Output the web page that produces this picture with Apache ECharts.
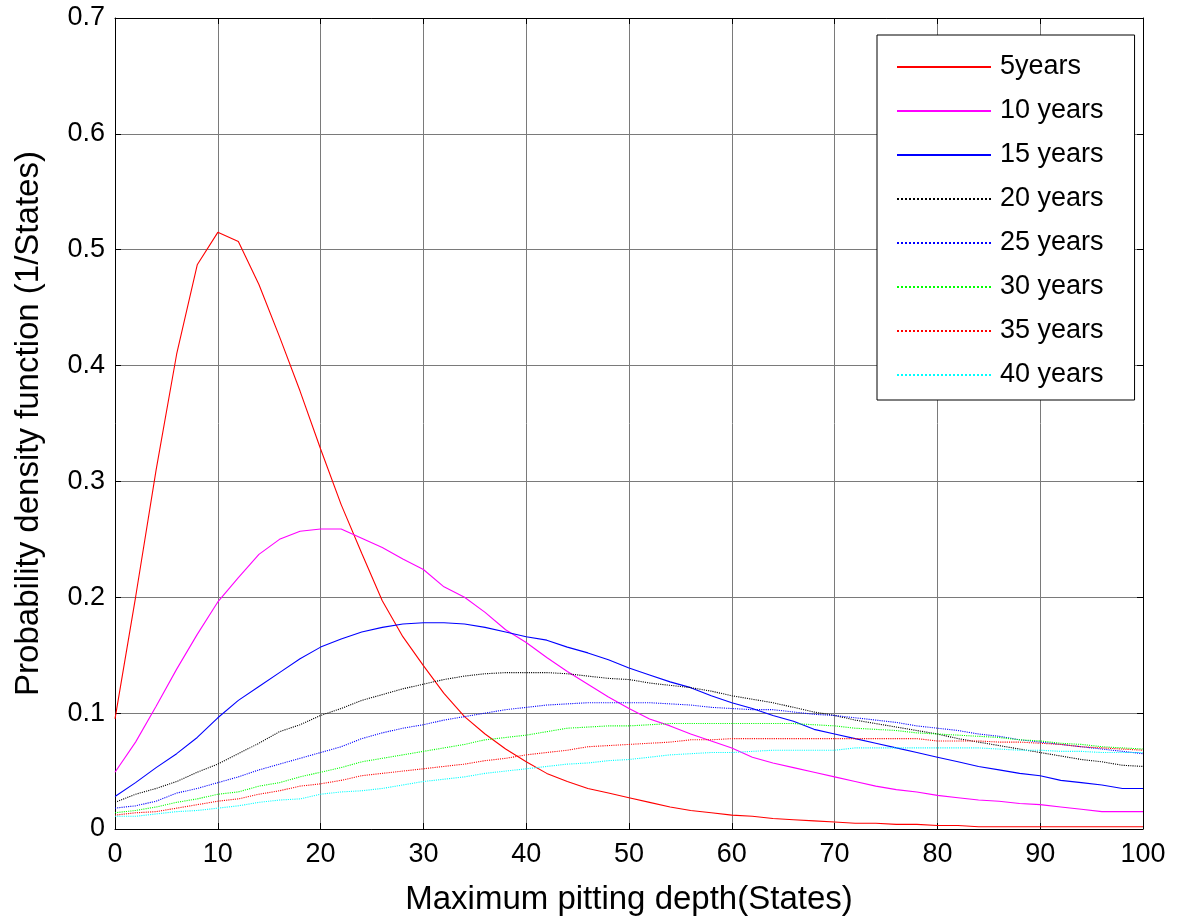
<!DOCTYPE html>
<html>
<head>
<meta charset="utf-8">
<script src="https://cdn.jsdelivr.net/npm/echarts@6/dist/echarts.min.js"></script>
<style>
html,body{margin:0;padding:0;background:#fff;}
#chart{width:1179px;height:922px;}
</style>
</head>
<body>
<div id="chart"></div>
<script>
const depth = [0,2,4,6,8,10,12,14,16,18,20,22,24,26,28,30,32,34,36,38,40,42,44,46,48,50,52,54,56,58,60,62,64,66,68,70,72,74,76,78,80,82,84,86,88,90,92,94,96,98,100];

const y5  = [0.095,0.200,0.310,0.410,0.487,0.515,0.507,0.470,0.425,0.378,0.328,0.280,0.238,0.197,0.166,0.141,0.117,0.097,0.082,0.069,0.058,0.048,0.041,0.035,0.031,0.027,0.023,0.019,0.016,0.014,0.012,0.011,0.009,0.008,0.007,0.006,0.005,0.005,0.004,0.004,0.003,0.003,0.002,0.002,0.002,0.002,0.002,0.002,0.002,0.002,0.002];
const y10 = [0.049,0.075,0.106,0.138,0.168,0.196,0.217,0.237,0.250,0.257,0.259,0.259,0.251,0.243,0.233,0.224,0.209,0.200,0.187,0.172,0.161,0.148,0.136,0.125,0.114,0.104,0.095,0.089,0.082,0.076,0.070,0.062,0.057,0.053,0.049,0.045,0.041,0.037,0.034,0.032,0.029,0.027,0.025,0.024,0.022,0.021,0.019,0.017,0.015,0.015,0.015];
const y15 = [0.028,0.040,0.053,0.065,0.079,0.096,0.111,0.123,0.135,0.147,0.157,0.164,0.170,0.174,0.177,0.178,0.178,0.177,0.174,0.170,0.166,0.163,0.157,0.152,0.146,0.139,0.133,0.127,0.122,0.115,0.109,0.104,0.098,0.093,0.086,0.082,0.078,0.074,0.070,0.066,0.062,0.058,0.054,0.051,0.048,0.046,0.042,0.040,0.038,0.035,0.035];
const y20 = [0.023,0.030,0.035,0.041,0.049,0.056,0.065,0.074,0.084,0.090,0.098,0.104,0.111,0.116,0.121,0.125,0.129,0.132,0.134,0.135,0.135,0.135,0.134,0.132,0.130,0.129,0.126,0.124,0.122,0.119,0.115,0.112,0.109,0.105,0.101,0.098,0.094,0.091,0.088,0.085,0.082,0.078,0.075,0.072,0.069,0.066,0.063,0.060,0.058,0.055,0.054];
const y25 = [0.018,0.020,0.024,0.031,0.035,0.040,0.045,0.051,0.056,0.061,0.066,0.071,0.078,0.083,0.087,0.090,0.094,0.097,0.100,0.103,0.105,0.107,0.108,0.109,0.109,0.109,0.109,0.108,0.107,0.105,0.104,0.103,0.103,0.101,0.099,0.098,0.096,0.094,0.092,0.089,0.087,0.085,0.082,0.080,0.077,0.075,0.073,0.071,0.069,0.067,0.065];
const y30 = [0.014,0.016,0.019,0.023,0.026,0.030,0.032,0.037,0.040,0.045,0.049,0.053,0.058,0.061,0.064,0.067,0.070,0.073,0.077,0.079,0.081,0.084,0.087,0.088,0.089,0.089,0.090,0.091,0.091,0.091,0.091,0.091,0.091,0.091,0.090,0.089,0.087,0.086,0.085,0.083,0.082,0.081,0.080,0.079,0.077,0.076,0.074,0.073,0.071,0.070,0.069];
const y35 = [0.012,0.014,0.015,0.018,0.021,0.024,0.026,0.030,0.033,0.037,0.039,0.042,0.046,0.048,0.050,0.052,0.054,0.056,0.059,0.061,0.064,0.066,0.068,0.071,0.072,0.073,0.074,0.075,0.077,0.077,0.078,0.078,0.078,0.078,0.078,0.078,0.078,0.078,0.078,0.078,0.076,0.076,0.076,0.075,0.075,0.074,0.073,0.071,0.070,0.069,0.068];
const y40 = [0.011,0.011,0.013,0.015,0.016,0.018,0.020,0.023,0.025,0.026,0.030,0.032,0.033,0.035,0.038,0.041,0.043,0.045,0.048,0.050,0.052,0.054,0.056,0.057,0.059,0.060,0.062,0.064,0.065,0.066,0.066,0.067,0.068,0.068,0.068,0.068,0.070,0.070,0.070,0.070,0.070,0.070,0.070,0.069,0.068,0.068,0.067,0.067,0.066,0.066,0.066];

const seriesNames = ['5years','10 years','15 years','20 years','25 years','30 years','35 years','40 years'];
const seriesValues = [y5,y10,y15,y20,y25,y30,y35,y40];
const seriesColors = ['#ff0000','#ff00ff','#0000ff','#000000','#0000ff','#00ff00','#ff0000','#00ffff'];
const seriesTypes = ['solid','solid','solid','dotted','dotted','dotted','dotted','dotted'];

const FONT = 'Liberation Sans, Arial, sans-serif';

const chart = echarts.init(document.getElementById('chart'), null, {renderer:'canvas'});

const series = seriesNames.map((name, i) => ({
  name: name,
  type: 'line',
  symbol: 'none',
  showSymbol: false,
  smooth: false,
  animation: false,
  xAxisIndex: 0,
  yAxisIndex: 0,
  lineStyle: {color: seriesColors[i], width: 1.1, type: seriesTypes[i]},
  itemStyle: {color: seriesColors[i]},
  data: depth.map((d, k) => [d, seriesValues[i][k]])
}));

const option = {
  backgroundColor: '#ffffff',
  animation: false,
  grid: {left: 115, right: 36, top: 18, bottom: 93, show: false},
  legend: {
    data: seriesNames,
    orient: 'vertical',
    left: 877,
    top: 35,
    padding: [17, 31, 10, 19],
    itemWidth: 94,
    itemHeight: 14,
    itemGap: 14,
    backgroundColor: '#ffffff',
    borderColor: '#000000',
    borderWidth: 1,
    itemStyle: {opacity: 0},
    textStyle: {fontFamily: FONT, fontSize: 27, color: '#000', lineHeight: 30, padding: [0, 0, 0, 4]}
  },
  xAxis: [
    {
      type: 'value', min: 0, max: 100, interval: 10, position: 'bottom',
      name: 'Maximum pitting depth(States)', nameLocation: 'middle', nameGap: 54,
      nameTextStyle: {fontFamily: FONT, fontSize: 33, color: '#000'},
      axisLine: {show: true, onZero: false, lineStyle: {color: '#000', width: 1}},
      axisTick: {show: true, inside: true, length: 6, lineStyle: {color: '#000'}},
      axisLabel: {fontFamily: FONT, fontSize: 27, color: '#000', margin: 12},
      splitLine: {show: true, lineStyle: {color: '#7a7a7a', width: 1}}
    },
    {
      type: 'value', min: 0, max: 100, interval: 10, position: 'top',
      axisLine: {show: true, onZero: false, lineStyle: {color: '#000', width: 1}},
      axisTick: {show: true, inside: true, length: 6, lineStyle: {color: '#000'}},
      axisLabel: {show: false},
      splitLine: {show: false}
    }
  ],
  yAxis: [
    {
      type: 'value', min: 0, max: 0.7, interval: 0.1, position: 'left',
      name: 'Probability density function (1/States)', nameLocation: 'middle', nameGap: 70,
      nameTextStyle: {fontFamily: FONT, fontSize: 33, color: '#000'},
      axisLine: {show: true, onZero: false, lineStyle: {color: '#000', width: 1}},
      axisTick: {show: true, inside: true, length: 6, lineStyle: {color: '#000'}},
      axisLabel: {fontFamily: FONT, fontSize: 27, color: '#000', margin: 10,
        formatter: v => (Math.round(v * 10) / 10).toString()},
      splitLine: {show: true, lineStyle: {color: '#7a7a7a', width: 1}}
    },
    {
      type: 'value', min: 0, max: 0.7, interval: 0.1, position: 'right',
      axisLine: {show: true, onZero: false, lineStyle: {color: '#000', width: 1}},
      axisTick: {show: true, inside: true, length: 6, lineStyle: {color: '#000'}},
      axisLabel: {show: false},
      splitLine: {show: false}
    }
  ],
  series: series
};

chart.setOption(option);
</script>
</body>
</html>
